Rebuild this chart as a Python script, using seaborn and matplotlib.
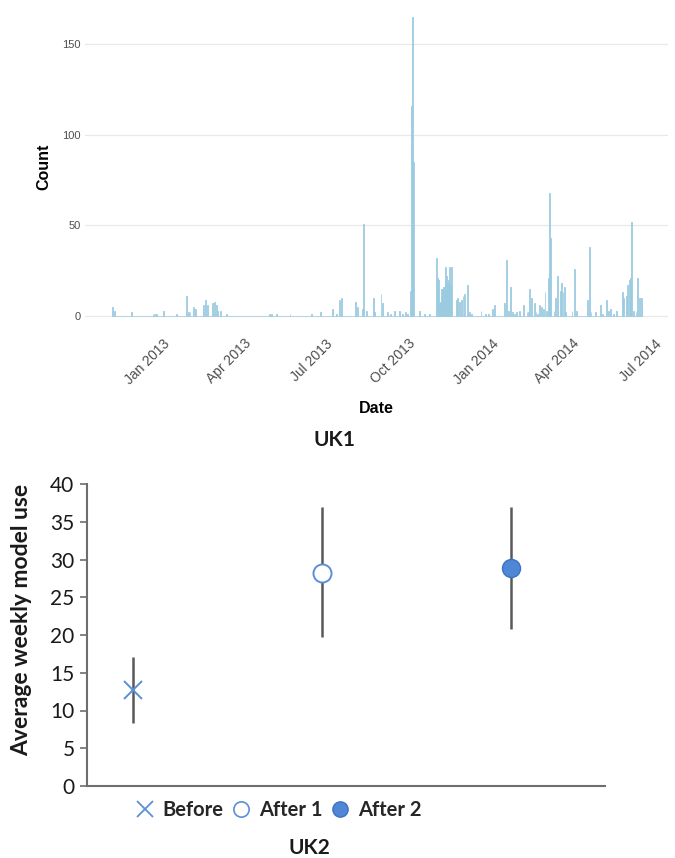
import numpy as np
import pandas as pd
import matplotlib
matplotlib.use("Agg")
import matplotlib.pyplot as plt
import matplotlib.dates as mdates
from matplotlib.lines import Line2D
import seaborn as sns

# ---------------- data: UK1 daily counts ----------------
dates_2012 = ["2012-11-06", "2012-11-08", "2012-11-27", "2012-12-21", "2012-12-23", "2012-12-25"]
counts_2012 = [5, 3, 2, 1, 1, 1]

dates_2013 = [
    "2013-01-02", "2013-01-16", "2013-01-27", "2013-01-29", "2013-01-31", "2013-02-04", "2013-02-06",
    "2013-02-15", "2013-02-17", "2013-02-19", "2013-02-25", "2013-02-27", "2013-03-01", "2013-03-03",
    "2013-03-06", "2013-03-13",
    "2013-04-29", "2013-05-01", "2013-05-07", "2013-05-22", "2013-06-15", "2013-06-25",
    "2013-07-08", "2013-07-13", "2013-07-16", "2013-07-18",
    "2013-08-03", "2013-08-05", "2013-08-10", "2013-08-12", "2013-08-15", "2013-08-23", "2013-08-24",
    "2013-08-31",
    "2013-09-02", "2013-09-07", "2013-09-11", "2013-09-15", "2013-09-21", "2013-09-24", "2013-09-27",
    "2013-09-29",
    "2013-10-03", "2013-10-04", "2013-10-05", "2013-10-06", "2013-10-13", "2013-10-18", "2013-10-24",
    "2013-11-01", "2013-11-02", "2013-11-03", "2013-11-04", "2013-11-05", "2013-11-06", "2013-11-07",
    "2013-11-08", "2013-11-09", "2013-11-10", "2013-11-11", "2013-11-12", "2013-11-13", "2013-11-14",
    "2013-11-15", "2013-11-16", "2013-11-17",
    "2013-11-23", "2013-11-24", "2013-11-26", "2013-11-28", "2013-11-30", "2013-12-02", "2013-12-05",
    "2013-12-07", "2013-12-09", "2013-12-20", "2013-12-25", "2013-12-28",
]
counts_2013 = [
    3, 1, 11, 2, 2, 5, 4,
    6, 9, 6, 7, 8, 6, 3,
    3, 1,
    1, 1, 1, 1, 1, 2,
    4, 1, 9, 10,
    8, 5, 4, 51, 3, 10, 2,
    12,
    7, 2, 1, 3, 3, 1, 2,
    1,
    14, 116, 165, 85, 3, 1, 1,
    32, 21, 20, 7, 8, 15, 15,
    16, 16, 20, 27, 22, 18, 20,
    27, 17, 27,
    9, 10, 8, 9, 11, 12, 17,
    2, 1, 3, 1, 1,
]

dates_2014 = [
    "2014-01-02", "2014-01-04", "2014-01-15", "2014-01-17", "2014-01-19", "2014-01-22", "2014-01-24",
    "2014-01-26", "2014-01-28",
    "2014-02-01", "2014-02-05", "2014-02-09", "2014-02-11", "2014-02-12", "2014-02-14", "2014-02-17",
    "2014-02-19", "2014-02-21", "2014-02-23", "2014-02-25", "2014-02-27",
    "2014-03-01", "2014-03-03", "2014-03-05", "2014-03-06", "2014-03-07", "2014-03-11", "2014-03-13",
    "2014-03-15", "2014-03-18", "2014-03-19", "2014-03-21", "2014-03-23", "2014-03-24", "2014-03-31",
    "2014-04-03", "2014-04-05", "2014-04-17", "2014-04-19", "2014-04-21", "2014-04-26",
    "2014-05-02", "2014-05-04", "2014-05-08", "2014-05-10", "2014-05-13", "2014-05-16", "2014-05-19",
    "2014-05-26", "2014-05-27", "2014-05-30",
    "2014-06-01", "2014-06-03", "2014-06-04", "2014-06-05", "2014-06-07", "2014-06-10", "2014-06-12",
    "2014-06-14", "2014-06-16",
]
counts_2014 = [
    4, 6, 7, 31, 3, 16, 2,
    1, 2,
    3, 6, 2, 2, 15, 10, 7,
    2, 1, 6, 5, 4,
    13, 3, 21, 68, 43, 3, 10,
    22, 14, 18, 13, 16, 2, 3,
    26, 3, 9, 38, 2, 2,
    6, 1, 9, 3, 4, 1, 3,
    13, 10, 11,
    17, 20, 21, 52, 3, 2, 21,
    10, 10,
]

# ---------------- data: UK2 ----------------
groups = ["Before", "After 1", "After 2"]
means = [12.7, 28.2, 28.9]
err_low = [8.3, 19.7, 20.8]
err_high = [17.1, 37.0, 37.0]

# ---------------- figure ----------------
sns.set_theme(style="white")
plt.rcParams['font.family'] = ['Liberation Sans', 'DejaVu Sans']

W, H = 675, 858
fig = plt.figure(figsize=(W / 100, H / 100), dpi=100)
fig.patch.set_facecolor("white")

# ---- top chart (UK1) ----
bar_color = "#9acbe0"
ax1 = fig.add_axes([85 / W, 1 - 331 / H, 583 / W, 329 / H])
all_dates = pd.to_datetime(dates_2012 + dates_2013 + dates_2014)
all_counts = counts_2012 + counts_2013 + counts_2014
day_num = mdates.date2num(all_dates)
df1 = pd.DataFrame({"day": day_num, "count": all_counts})
sns.histplot(data=df1, x="day", weights="count", binwidth=1,
             binrange=(day_num.min(), day_num.max() + 1),
             color=bar_color, alpha=1, edgecolor=bar_color, linewidth=0.55, ax=ax1)

ax1.set_xlim(mdates.date2num(pd.Timestamp("2012-10-07")), mdates.date2num(pd.Timestamp("2014-07-16")))
ax1.set_ylim(-8.25, 173.25)
ax1.set_yticks([0, 50, 100, 150])
ax1.xaxis.set_major_locator(mdates.MonthLocator(bymonth=[1, 4, 7, 10]))
ax1.xaxis.set_major_formatter(mdates.DateFormatter("%b %Y"))
ax1.set_facecolor("white")
for s in ax1.spines.values():
    s.set_visible(False)
ax1.grid(False)
ax1.yaxis.grid(True, color="#e8e8e8", linewidth=0.9)
ax1.set_axisbelow(True)
ax1.tick_params(axis="both", length=0, labelcolor="#4d4d4d", pad=3)
ax1.tick_params(axis="y", labelsize=8)
ax1.tick_params(axis="x", labelsize=10, pad=4)
for lab in ax1.get_xticklabels():
    lab.set_rotation(45)
    lab.set_ha("right")
    lab.set_va("top")
    lab.set_rotation_mode("anchor")
ax1.set_xlabel("Date", fontsize=11.5, fontweight="bold", color="black", labelpad=10)
ax1.set_ylabel("Count", fontsize=11.5, fontweight="bold", color="black", labelpad=8)

fig.text(334 / W, 1 - 440 / H, "UK1", ha="center", va="center", fontsize=15,
         fontweight="bold", family=["Lato", "DejaVu Sans"], color="#1a1a1a")

# ---- bottom chart (UK2) ----
ax2 = fig.add_axes([87 / W, 1 - 786 / H, 518 / W, 302 / H])
xpos = np.arange(len(groups))
blue = "#5b8fd8"
ax2.vlines(xpos, err_low, err_high, color="#595959", linewidth=1.8, zorder=2)
ax2.plot(xpos[0], means[0], marker="x", markersize=13, markeredgewidth=1.4, color=blue,
         linestyle="none", zorder=3)
ax2.plot(xpos[1], means[1], marker="o", markersize=13, markeredgewidth=1.4,
         markerfacecolor="white", markeredgecolor=blue, linestyle="none", zorder=3)
ax2.plot(xpos[2], means[2], marker="o", markersize=13, markeredgewidth=1.0,
         markerfacecolor="#4f86d6", markeredgecolor="#3d72c4", linestyle="none", zorder=3)

ax2.set_xlim(-0.243, 2.497)
ax2.set_ylim(0, 40)
ax2.set_yticks(np.arange(0, 41, 5))
ax2.set_xticks([])
ax2.set_facecolor("white")
ax2.grid(False)
for side in ["top", "right"]:
    ax2.spines[side].set_visible(False)
for side in ["left", "bottom"]:
    ax2.spines[side].set_color("#6e6e6e")
    ax2.spines[side].set_linewidth(1.5)
ax2.tick_params(axis="y", length=5, width=1.2, color="#6e6e6e", direction="out",
                labelsize=15, labelcolor="#1a1a1a", pad=4, left=True)
for lab in ax2.get_yticklabels():
    lab.set_family(["Lato", "DejaVu Sans"])

fig.text(22 / W, 1 - 620 / H, "Average weekly model use", rotation=90, ha="center", va="center",
         fontsize=16.5, fontweight="bold", family=["Lato", "DejaVu Sans"], color="#1a1a1a")

handles = [
    Line2D([], [], marker="x", markersize=11, markeredgewidth=1.3, color=blue, linestyle="none"),
    Line2D([], [], marker="o", markersize=11, markeredgewidth=1.2, markerfacecolor="white",
           markeredgecolor=blue, linestyle="none"),
    Line2D([], [], marker="o", markersize=11, markerfacecolor="#4f86d6",
           markeredgecolor="#3d72c4", linestyle="none"),
]
fig.legend(handles, groups, loc="center", bbox_to_anchor=(278 / W, 1 - 810 / H), ncol=3,
           frameon=False, handletextpad=0.4, columnspacing=0.35, handlelength=1.0,
           prop={"family": ["Lato", "DejaVu Sans"], "weight": "bold", "size": 14.5})

fig.text(309 / W, 1 - 848 / H, "UK2", ha="center", va="center", fontsize=15,
         fontweight="bold", family=["Lato", "DejaVu Sans"], color="#1a1a1a")

fig.savefig("out.png", dpi=100, facecolor="white")
